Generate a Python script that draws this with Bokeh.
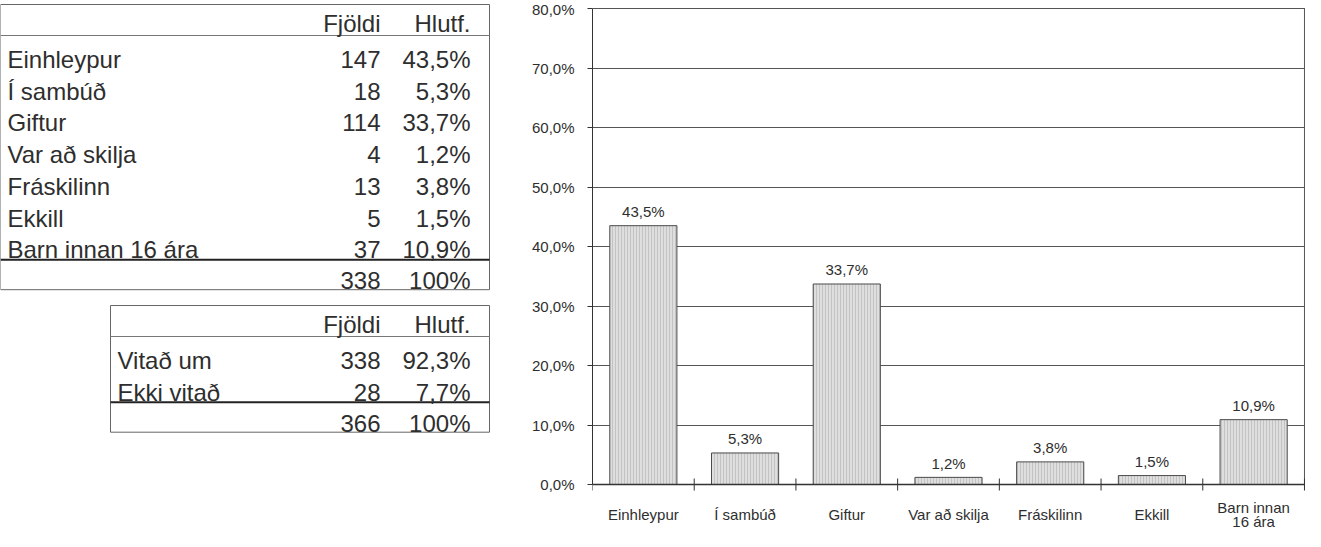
import math
from bokeh.plotting import figure
from bokeh.models import Range1d, FixedTicker, ColumnDataSource, LabelSet, Span
from bokeh.layouts import row
from bokeh.core.properties import value
from bokeh.embed import file_html
from bokeh.resources import INLINE

# ---------------- data ----------------
status = ["Einhleypur", "Í sambúð", "Giftur", "Var að skilja", "Fráskilinn", "Ekkill", "Barn innan 16 ára"]
counts = [147, 18, 114, 4, 13, 5, 37]
pcts = [43.5, 5.3, 33.7, 1.2, 3.8, 1.5, 10.9]
total_count = 338
total_pct = "100%"

known_labels = ["Vitað um", "Ekki vitað"]
known_counts = [338, 28]
known_pcts = [92.3, 7.7]
known_total = 366
known_total_pct = "100%"

header = ["Fjöldi", "Hlutf."]
x_tick_labels = ["Einhleypur", "Í sambúð", "Giftur", "Var að skilja", "Fráskilinn", "Ekkill", "Barn innan\n16 ára"]
y_ticks = [0, 10, 20, 30, 40, 50, 60, 70, 80]


def fmt(v):
    return f"{v:.1f}%".replace(".", ",")


FONT = value("Liberation Sans")
TXT = "#2e2e2e"
H = 531

# ---------------- tables figure ----------------
TW = 502
t = figure(width=TW, height=H, x_range=Range1d(0, TW), y_range=Range1d(H, 0),
           output_backend="svg", toolbar_location=None, title=None,
           x_axis_location=None, y_axis_location=None, min_border=0)
t.grid.grid_line_color = None
t.outline_line_color = None

COL_N = 380   # right edge of count column
COL_P = 470   # right edge of percent column
RH = 31.7
FS = value("24px")


def draw_table(left, right, top, labels, cnts, pc, tot, totp):
    head_line = top + 31
    head_y = head_line - 12
    row0 = head_line + 24
    ys = [row0 + i * RH for i in range(len(labels))]
    heavy = ys[-1] + 10
    tot_y = heavy + 21
    bottom = heavy + 30
    t.segment(x0=[left, left, right, left], y0=[top, top, top, bottom],
              x1=[right, left, right, right], y1=[top, bottom, bottom, bottom],
              line_color="#666666", line_width=1)
    t.segment(x0=[left], y0=[head_line], x1=[right], y1=[head_line],
              line_color="#777777", line_width=1)
    t.segment(x0=[left], y0=[heavy], x1=[right], y1=[heavy],
              line_color="#222222", line_width=2)
    t.text(x=[COL_N, COL_P], y=[head_y, head_y], text=header, text_align="right",
           text_baseline="middle", text_font=FONT, text_font_size=FS, text_color=TXT)
    src = ColumnDataSource(dict(y=ys, lab=labels, n=[str(c) for c in cnts],
                                p=[fmt(v) for v in pc]))
    t.text(x=left + 7, y="y", text="lab", source=src, text_align="left",
           text_baseline="middle", text_font=FONT, text_font_size=FS, text_color=TXT)
    t.text(x=COL_N, y="y", text="n", source=src, text_align="right",
           text_baseline="middle", text_font=FONT, text_font_size=FS, text_color=TXT)
    t.text(x=COL_P, y="y", text="p", source=src, text_align="right",
           text_baseline="middle", text_font=FONT, text_font_size=FS, text_color=TXT)
    t.text(x=[COL_N, COL_P], y=[tot_y, tot_y], text=[str(tot), totp], text_align="right",
           text_baseline="middle", text_font=FONT, text_font_size=FS, text_color=TXT)


draw_table(0, 489, 4, status, counts, pcts, total_count, total_pct)
draw_table(110, 489, 305, known_labels, known_counts, known_pcts, known_total, known_total_pct)

# ---------------- bar chart ----------------
n = len(status)
centers = [i + 0.5 for i in range(n)]
bounds = [float(i) for i in range(n + 1)]

# frame spans the full figure height; 80 % sits 8 px below the top, 0 % sits 47 px above the bottom
YMAX = y_ticks[-1]
ppu = (H - 8 - 47) / YMAX
p = figure(width=803, height=H, x_range=Range1d(0, n + 0.01),
           y_range=Range1d(-47 / ppu, YMAX + 8 / ppu),
           output_backend="svg", toolbar_location=None, title=None,
           x_axis_location=None,
           min_border_left=90, min_border_right=0, min_border_top=0, min_border_bottom=0)
p.outline_line_color = None

# category labels: first lines for all, second lines only where a label wraps
first_lines = [s.split("\n")[0] for s in x_tick_labels]
first_offsets = [-23 if "\n" in s else -30 for s in x_tick_labels]
wrapped = [(c, s.split("\n")[1]) for c, s in zip(centers, x_tick_labels) if "\n" in s]

bsrc = ColumnDataSource(dict(x=centers, top=pcts, lab=[fmt(v) for v in pcts],
                             base=[0] * n, cat=first_lines, off=first_offsets))
wsrc = ColumnDataSource(dict(x=[w[0] for w in wrapped], base=[0] * len(wrapped),
                             cat=[w[1] for w in wrapped]))

p.xgrid.visible = False
p.ygrid.ticker = FixedTicker(ticks=y_ticks)
p.ygrid.grid_line_color = "#555555"
p.ygrid.grid_line_width = 1

p.vbar(x="x", top="top", width=0.66, bottom=0, source=bsrc,
       fill_color="#dedede", line_color="#4a4a4a", line_width=1,
       hatch_pattern="vertical_line", hatch_color="#8f8f8f", hatch_scale=3,
       hatch_weight=0.7, hatch_alpha=0.5)

# right border of the plot area and the category axis line with its boundary ticks
p.segment(x0=[n], y0=[0], x1=[n], y1=[YMAX], line_color="#555555", line_width=1)
p.add_layout(Span(location=0, dimension="width", line_color="#333333", line_width=1.5))
p.scatter(x=bounds, y=[0] * len(bounds), marker="dash", angle=math.pi / 2, size=12,
          line_color="#333333", line_width=1)

p.add_layout(LabelSet(x="x", y="top", text="lab", source=bsrc, text_align="center",
                      text_baseline="middle", y_offset=14, text_font=FONT,
                      text_font_size="15px", text_color=TXT))
p.add_layout(LabelSet(x="x", y="base", text="cat", source=bsrc, text_align="center",
                      text_baseline="middle", y_offset="off", text_font=FONT,
                      text_font_size="15px", text_color=TXT))
p.add_layout(LabelSet(x="x", y="base", text="cat", source=wsrc, text_align="center",
                      text_baseline="middle", y_offset=-37, text_font=FONT,
                      text_font_size="15px", text_color=TXT))

ya = p.yaxis[0]
ya.ticker = FixedTicker(ticks=y_ticks)
ya.bounds = (0, YMAX)
ya.major_label_overrides = {v: fmt(v) for v in y_ticks}
ya.axis_line_color = "#333333"
ya.major_tick_out = 5
ya.major_tick_in = 0
ya.minor_tick_line_color = None
ya.major_tick_line_color = "#333333"
ya.major_label_standoff = 13
ya.major_label_text_font = "Liberation Sans"
ya.major_label_text_font_size = "15px"
ya.major_label_text_color = TXT

layout = row(t, p)
open("out.html", "w").write(file_html(layout, INLINE))
